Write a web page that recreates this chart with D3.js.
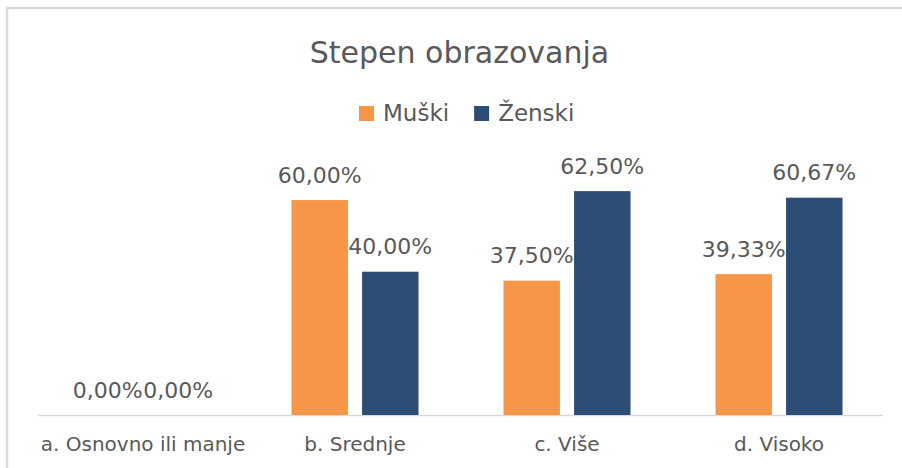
<!DOCTYPE html>
<html>
<head>
<meta charset="utf-8">
<title>Stepen obrazovanja</title>
<script src="https://d3js.org/d3.v7.min.js"></script>
<style>
body {
    margin: 0;
    background: #fff;
    font-family: "DejaVu Sans", Verdana, sans-serif;
}
text {
    fill: #595959;
}
</style>
</head>
<body>
<svg id="chart"></svg>
<script>
    // data
    var categories = ["a. Osnovno ili manje", "b. Srednje", "c. Više", "d. Visoko"];
    var series = ["Muški", "Ženski"];
    var muski = [0, 60.00, 37.50, 39.33];
    var zenski = [0, 40.00, 62.50, 60.67];
    var seriesColors = ["#F79646", "#2C4D75"];

    var width = 902;
    var height = 468;
    var baseY = 415;

    var svg = d3.select('#chart')
        .attr('width', width)
        .attr('height', height);

    // chart border (only top and left edges are visible in the crop)
    svg.append('rect')
        .attr('x', 7).attr('y', 8)
        .attr('width', 920).attr('height', 480)
        .attr('fill', '#fff')
        .attr('stroke', '#d9d9d9')
        .attr('stroke-width', 2.5);

    var x = d3.scaleBand()
        .domain(categories)
        .range([37, 885]);

    var xInner = d3.scaleBand()
        .domain(series)
        .range([42.5, 169.5])
        .paddingInner(0.2);

    var y = d3.scaleLinear()
        .domain([0, 70])
        .range([baseY, baseY - 70 * 3.582]);

    var rows = categories.map(function (c, i) {
        return [
            { cat: c, s: series[0], v: muski[i], color: seriesColors[0] },
            { cat: c, s: series[1], v: zenski[i], color: seriesColors[1] }
        ];
    });
    var flat = [].concat.apply([], rows);

    // title
    svg.append('text')
        .attr('x', 459.5).attr('y', 63)
        .attr('text-anchor', 'middle')
        .style('font-size', '30px')
        .text('Stepen obrazovanja');

    // legend
    var legend = svg.append('g');
    var lx = 359;
    series.forEach(function (s, i) {
        legend.append('rect')
            .attr('x', lx).attr('y', 106)
            .attr('width', 15).attr('height', 15)
            .attr('fill', seriesColors[i]);
        var t = legend.append('text')
            .attr('x', lx + 24).attr('y', 121)
            .style('font-size', '23px')
            .text(s);
        lx = lx + 24 + t.node().getComputedTextLength() + 25;
    });

    // axis line
    svg.append('line')
        .attr('x1', 38).attr('x2', 883)
        .attr('y1', baseY + 0.5).attr('y2', baseY + 0.5)
        .attr('stroke', '#d9d9d9')
        .attr('stroke-width', 1.5);

    // bars
    svg.selectAll('rect.bar')
        .data(flat)
        .enter().append('rect')
        .attr('class', 'bar')
        .attr('x', function (d) { return x(d.cat) + xInner(d.s); })
        .attr('width', xInner.bandwidth())
        .attr('y', function (d) { return y(d.v); })
        .attr('height', function (d) { return baseY - y(d.v); })
        .attr('fill', function (d) { return d.color; });

    // data labels
    svg.selectAll('text.lbl')
        .data(flat)
        .enter().append('text')
        .attr('class', 'lbl')
        .attr('x', function (d) { return x(d.cat) + xInner(d.s) + xInner.bandwidth() / 2; })
        .attr('y', function (d) { return y(d.v) - 17.5; })
        .attr('text-anchor', 'middle')
        .style('font-size', '22px')
        .text(function (d) { return d.v.toFixed(2).replace('.', ',') + '%'; });

    // category labels
    svg.selectAll('text.cat')
        .data(categories)
        .enter().append('text')
        .attr('class', 'cat')
        .attr('x', function (d) { return x(d) + x.bandwidth() / 2; })
        .attr('y', 451)
        .attr('text-anchor', 'middle')
        .style('font-size', '20px')
        .text(function (d) { return d; });
</script>
</body>
</html>
